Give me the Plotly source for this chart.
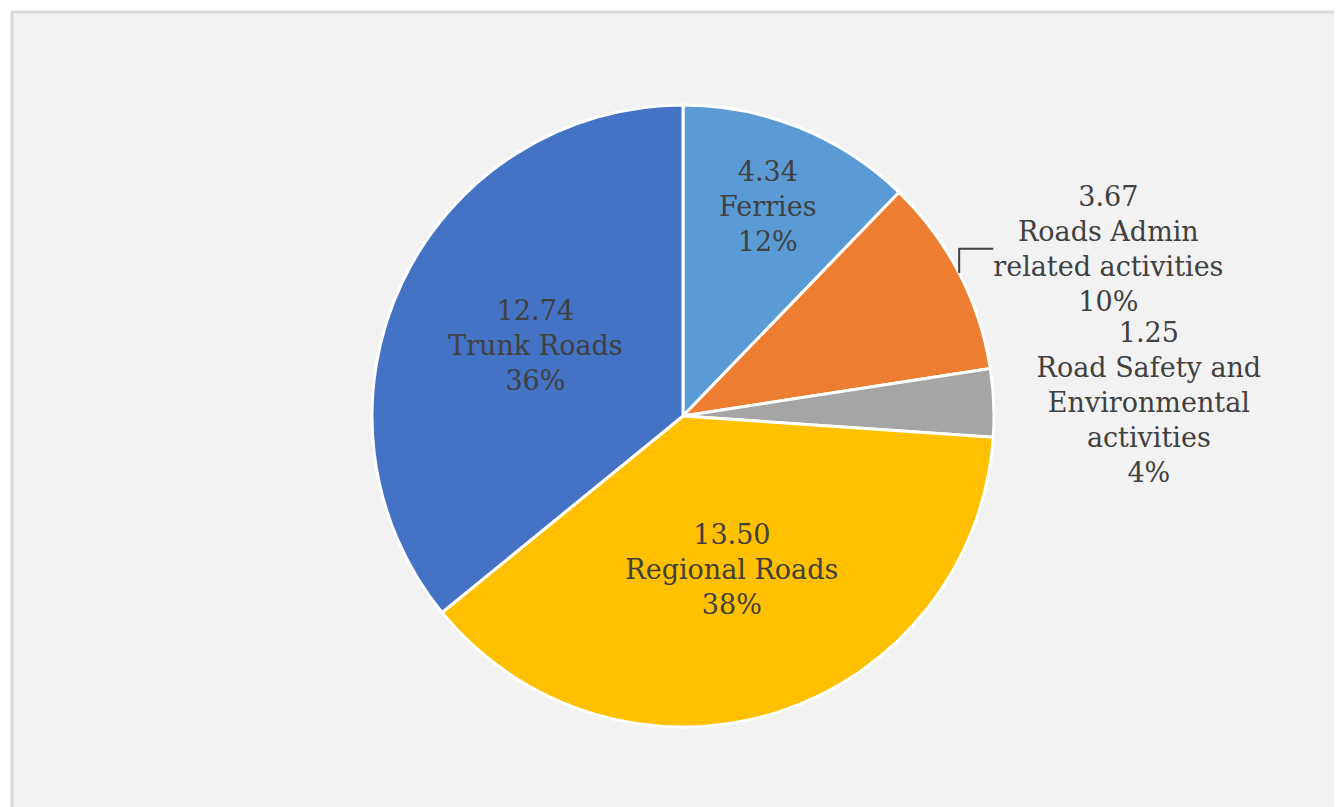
import plotly.graph_objects as go

# Datos
LABELS = [
    "Ferries",
    "Roads Admin<br>related activities",
    "Road Safety and<br>Environmental<br>activities",
    "Regional Roads",
    "Trunk Roads",
]
VALUES = [4.34, 3.67, 1.25, 13.50, 12.74]
COLORS = ["#5b9bd5", "#ed7d31", "#a5a5a5", "#ffc000", "#4472c4"]
POSITIONS = ["inside", "outside", "outside", "inside", "inside"]

W, H = 1342, 807
OFF = 8  # margen del body en la página
TEXT = "#404040"
FONT = "DejaVu Serif, Liberation Serif, serif"
SIZE = 27

CX, CY, R = 683 - OFF, 416 - OFF, 311

fig = go.Figure(go.Pie(
    labels=LABELS,
    values=VALUES,
    sort=False,
    direction="clockwise",
    rotation=0,
    marker=dict(colors=COLORS, line=dict(color="white", width=3)),
    texttemplate="%{value:.2f}<br>%{label}<br>%{percent:.0%}",
    textposition=POSITIONS,
    insidetextorientation="horizontal",
    textfont=dict(family=FONT, size=SIZE, color=TEXT),
    outsidetextfont=dict(family=FONT, size=SIZE, color=TEXT),
    insidetextfont=dict(family=FONT, size=SIZE, color=TEXT),
    domain=dict(x=[(CX - R) / W, (CX + R) / W],
                y=[1 - (CY + R) / H, 1 - (CY - R) / H]),
    showlegend=False,
    hoverinfo="label+value+percent",
))

# Marco del área del gráfico
fig.add_shape(
    type="rect", xref="paper", yref="paper",
    x0=(12 - OFF) / W, x1=1.02, y0=-0.02, y1=1 - (12 - OFF) / H,
    fillcolor="#f2f2f2", line=dict(color="#d9d9d9", width=3),
    layer="below",
)

fig.update_layout(
    width=W, height=H,
    paper_bgcolor="white",
    plot_bgcolor="white",
    margin=dict(l=0, r=0, t=0, b=0),
    font=dict(family=FONT, color=TEXT),
)

fig.write_html("out.html")
